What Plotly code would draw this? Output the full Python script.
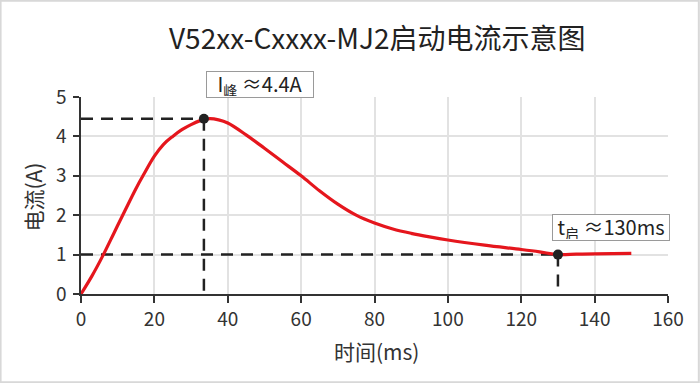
import plotly.graph_objects as go

# ---- data ----
time_ms = [0, 3, 6, 9, 12, 15, 17, 20, 22.5, 25, 27.5, 30, 32.5, 35, 37.5, 40, 45, 50, 55,
           60, 65, 70, 75, 80, 85, 90, 95, 100, 110, 120, 125, 130, 135, 140, 150]
current_a = [0, 0.46, 0.98, 1.55, 2.12, 2.68, 3.02, 3.5, 3.8, 4.0, 4.17, 4.3, 4.4, 4.45,
             4.42, 4.34, 4.04, 3.7, 3.35, 3.0, 2.62, 2.28, 2.0, 1.8, 1.65, 1.54, 1.45,
             1.37, 1.24, 1.13, 1.07, 1.0, 1.01, 1.02, 1.03]

peak_t, peak_i = 33.5, 4.45
start_t, start_i = 130, 1.0

title = "V52xx-Cxxxx-MJ2启动电流示意图"
x_title = "时间(ms)"
y_title = "电流(A)"
x_ticks = [0, 20, 40, 60, 80, 100, 120, 140, 160]
y_ticks = [0, 1, 2, 3, 4, 5]
peak_label = "I<sub>峰</sub> ≈4.4A"
start_label = "t<sub>启</sub> ≈130ms"

FONT = "Noto Sans CJK SC"
RED = "#e5161d"
DARK = "#222222"

fig = go.Figure()

dash_style = dict(color=DARK, width=2.5, dash="12px,8px")
# guide lines
fig.add_trace(go.Scatter(x=[0, peak_t], y=[peak_i, peak_i], mode="lines", line=dash_style,
                         hoverinfo="skip", showlegend=False))
fig.add_trace(go.Scatter(x=[peak_t, peak_t], y=[peak_i, 0], mode="lines", line=dash_style,
                         hoverinfo="skip", showlegend=False))
fig.add_trace(go.Scatter(x=[0, start_t], y=[start_i, start_i], mode="lines", line=dash_style,
                         hoverinfo="skip", showlegend=False))
fig.add_trace(go.Scatter(x=[start_t, start_t], y=[start_i, 0], mode="lines", line=dash_style,
                         hoverinfo="skip", showlegend=False))

# current curve
fig.add_trace(go.Scatter(x=time_ms, y=current_a, mode="lines",
                         line=dict(color=RED, width=3.2, shape="spline", smoothing=1.0),
                         showlegend=False, cliponaxis=False))

# key points
fig.add_trace(go.Scatter(x=[peak_t, start_t], y=[peak_i, start_i], mode="markers",
                         marker=dict(color=DARK, size=10), showlegend=False, cliponaxis=False))

ann_common = dict(showarrow=False, bgcolor="white", bordercolor="#9a9a9a", borderwidth=1,
                  borderpad=1, xanchor="center", yanchor="middle", align="center",
                  valign="middle", font=dict(family=FONT, size=20, color="#222222"))
fig.add_annotation(x=(260 - 81) / 587 * 160, y=(294 - 84.5) / 197, xref="x", yref="paper",
                   text=peak_label, width=104, height=23, **ann_common)
fig.add_annotation(x=(611 - 81) / 587 * 160, y=(294 - 227.5) / 197, xref="x", yref="paper",
                   text=start_label, width=114, height=23, **ann_common)

# axis titles
fig.add_annotation(x=(377 - 81) / 587, y=(294 - 351) / 197, xref="paper", yref="paper",
                   xanchor="center", yanchor="middle",
                   text=x_title, showarrow=False, font=dict(family=FONT, size=21, color="#333333"))
fig.add_annotation(x=(32 - 81) / 587, y=(294 - 197.5) / 197, xref="paper", yref="paper",
                   xanchor="center", yanchor="middle",
                   text=y_title, textangle=-90, showarrow=False,
                   font=dict(family=FONT, size=21, color="#333333"))

# outer frame
fig.add_shape(type="rect", xref="paper", yref="paper",
              x0=-81 / 587 + 0.001, x1=(700 - 81) / 587 - 0.002,
              y0=-89 / 197 + 0.004, y1=1 + 97 / 197 - 0.004,
              line=dict(color="#d8d8d8", width=2))

axis_common = dict(showgrid=True, gridcolor="#e2e2e2", gridwidth=1.5, zeroline=False,
                   showline=True, linecolor="#333333", linewidth=1.5, ticks="outside",
                   tickcolor="#333333", tickwidth=1.5, automargin=False,
                   tickfont=dict(family=FONT, size=19, color="#333333"))

fig.update_layout(
    width=700, height=383,
    margin=dict(l=81, r=32, t=97, b=89),
    paper_bgcolor="white", plot_bgcolor="white",
    font=dict(family=FONT, color="#333333"),
    title=dict(text=title, x=0.539, xanchor="center", y=0.898, yanchor="middle",
               xref="container", yref="container", automargin=False,
               font=dict(family=FONT, size=28, color="#222222")),
    xaxis=dict(range=[0, 160], tickvals=x_ticks, ticklen=7, **axis_common),
    yaxis=dict(range=[0, 5], tickvals=y_ticks, ticklen=6, ticklabelstandoff=3, **axis_common),
)

fig.write_html("out.html", config={"displayModeBar": False},
               post_script="document.body.style.margin='0';")
